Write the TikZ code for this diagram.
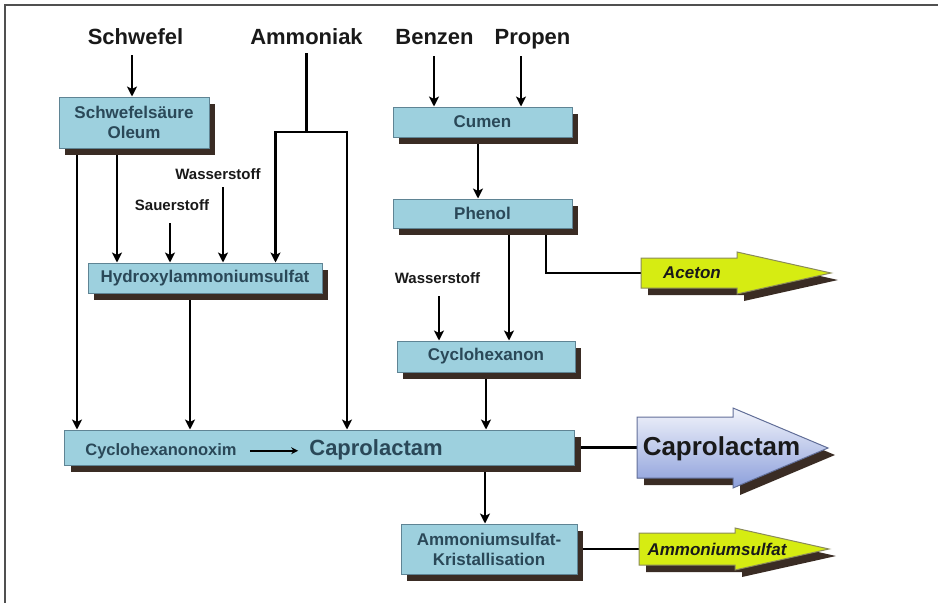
\documentclass[tikz,border=0pt]{standalone}
\usepackage{fontspec}
\setmainfont{Liberation Sans}
\usetikzlibrary{positioning,shadows,arrows.meta,backgrounds}
\definecolor{boxfill}{HTML}{9DD0DE}
\definecolor{boxline}{HTML}{5F8494}
\definecolor{boxtext}{HTML}{2A4858}
\definecolor{shadowc}{HTML}{3A2C24}
\definecolor{limefill}{HTML}{D6EC12}
\definecolor{limeline}{HTML}{8A8A5A}
\definecolor{captop}{HTML}{F2F4FB}
\definecolor{capbot}{HTML}{8C9FDB}
\definecolor{frame}{HTML}{505050}

\begin{document}
\begin{tikzpicture}[x=1pt,y=-1pt,>={Stealth[length=10pt,width=10pt,inset=2.5pt]}]
                        \tikzstyle{every node}=[inner sep=0,font=\bfseries]
                        \tikzstyle{raw}=[anchor=base,text=black!90,font=\fontsize{22}{26}\selectfont\bfseries]
                        \tikzstyle{gas}=[anchor=base,text=black!90,font=\fontsize{15}{18}\selectfont\bfseries]
                        \tikzstyle{box}=[rectangle,draw=boxline,line width=1,fill=boxfill,text=boxtext,align=center,
                            font=\fontsize{17}{20}\selectfont\bfseries,
                            drop shadow={shadow xshift=6pt,shadow yshift=-7pt,fill=shadowc,opacity=1}]
                        \tikzstyle{flow}=[line width=2.2,->]
                        \tikzstyle{pipe}=[line width=2.2]
                        \tikzstyle{outarrow}=[draw=limeline,line width=1,
                            drop shadow={shadow xshift=7pt,shadow yshift=-7pt,fill=shadowc,opacity=1}]
                        \tikzstyle{outlabel}=[anchor=base,text=black!90,font=\fontsize{17}{20}\selectfont\bfseries\itshape]
                        {
                            \useasboundingbox (0,0) rectangle (938,603);

                            \node[raw] (schwefel) at (135.5,44) {Schwefel};
                            \node[raw] (ammoniak) at (306.5,44) {Ammoniak};
                            \node[raw] (benzen) at (434.5,44) {Benzen};
                            \node[raw] (propen) at (532.5,44) {Propen};

                            \node[gas] (hwl) at (218,179) {Wasserstoff};
                            \node[gas] (sauerstoff) at (172,210) {Sauerstoff};
                            \node[gas] (hwr) at (437.5,283) {Wasserstoff};

                            \node[box,minimum width=150,minimum height=51] (saeure) at (134,122.5) {Schwefelsäure\\Oleum};
                            \node[box,minimum width=234,minimum height=30] (hydroxyl) at (205,278) {Hydroxylammoniumsulfat};
                            \node[box,minimum width=179,minimum height=30] (cumen) at (482.5,122) {Cumen};
                            \node[box,minimum width=179,minimum height=29,below of=cumen,node distance=91.5] (phenol) {Phenol};
                            \node[box,minimum width=178,minimum height=31] (cyclo) at (486,356.5) {Cyclohexanon};
                            \node[box,minimum width=510,minimum height=35] (capro) at (319.5,447.5) {};
                            \node[box,minimum width=176,minimum height=50] (ammon) at (489,549) {Ammoniumsulfat-\\Kristallisation};

                            \node[anchor=base,text=boxtext,font=\fontsize{16.5}{20}\selectfont\bfseries] (oxim) at (161,455) {Cyclohexanonoxim};
                            \node[anchor=base,text=boxtext,font=\fontsize{22}{26}\selectfont\bfseries] (lactam) at (376,455) {Caprolactam};
                            \draw[line width=2,->,>={Stealth[length=7pt,width=7pt]},shorten <=13,shorten >=11]
                                (oxim.east) -- (oxim.east -| lactam.west);

                            \filldraw[outarrow,fill=limefill] (641,258) -- (737,258) -- (737,252) -- (831,273)
                                -- (737,294) -- (737,288) -- (641,288) -- cycle;
                            \filldraw[outarrow,draw=capbot!70!black,top color=captop,bottom color=capbot]
                                (637,417) -- (733,417) -- (733,408) -- (828,448) -- (733,488) -- (733,478) -- (637,478) -- cycle;
                            \filldraw[outarrow,fill=limefill] (639,533) -- (735,533) -- (735,528) -- (829,549)
                                -- (735,570) -- (735,565) -- (639,565) -- cycle;
                            \coordinate (acetonin) at (641,273);
                            \coordinate (caprin) at (637,447.5);
                            \coordinate (ammin) at (639,549);

                            \node[outlabel] (aceton) at (692,278) {Aceton};
                            \node[anchor=base,text=black!90,font=\fontsize{26}{30}\selectfont\bfseries] (product) at (721.5,455) {Caprolactam};
                            \node[outlabel] (sulfat) at (717,555) {Ammoniumsulfat};

                            \begin{scope}[on background layer]
                                \draw[frame,line width=2] (4.5,603) -- (4.5,5) -- (938,5);

                                \draw[flow] ([xshift=-3.5pt,yshift=-11pt]schwefel.base) -- ([xshift=-3.5pt]schwefel.base |- saeure.north);
                                \draw[flow] ([xshift=-57pt]saeure.south) -- ([xshift=-57pt]saeure.south |- capro.north);
                                \draw[flow] ([xshift=-17pt]saeure.south) -- ([xshift=-17pt]saeure.south |- hydroxyl.north);
                                \draw[flow] ([xshift=-2pt,yshift=-13pt]sauerstoff.base) -- ([xshift=-2pt]sauerstoff.base |- hydroxyl.north);
                                \draw[flow] ([xshift=5pt,yshift=-8pt]hwl.base) -- ([xshift=5pt]hwl.base |- hydroxyl.north);
                                \draw[pipe] ([yshift=-9pt]ammoniak.base) -- ([yshift=-88pt]ammoniak.base) coordinate (nh3);
                                \draw[flow] (nh3) -| ([xshift=-31pt]nh3 |- hydroxyl.north);
                                \draw[flow] (nh3) -| ([xshift=40.5pt]nh3 |- capro.north);
                                \draw[flow] ([xshift=-15pt]hydroxyl.south) -- ([xshift=-15pt]hydroxyl.south |- capro.north);

                                \draw[flow] ([xshift=-0.5pt,yshift=-12pt]benzen.base) -- ([xshift=-0.5pt]benzen.base |- cumen.north);
                                \draw[flow] ([xshift=-11.5pt,yshift=-12pt]propen.base) -- ([xshift=-11.5pt]propen.base |- cumen.north);
                                \draw[flow] ([xshift=-4.5pt]cumen.south) -- ([xshift=-4.5pt]cumen.south |- phenol.north);
                                \draw[flow] ([xshift=26.5pt]phenol.south) -- ([xshift=26.5pt]phenol.south |- cyclo.north);
                                \draw[pipe] ([xshift=63.5pt]phenol.south) |- (acetonin);
                                \draw[flow] ([xshift=1.5pt,yshift=-13pt]hwr.base) -- ([xshift=1.5pt]hwr.base |- cyclo.north);
                                \draw[flow] (cyclo.south) -- (cyclo.south |- capro.north);
                                \draw[flow] ([xshift=-4pt]ammon.north |- capro.south) -- ([xshift=-4pt]ammon.north);
                                \draw[pipe] (capro.east) -- (caprin);
                                \draw[pipe] (ammon.east) -- (ammin);
                            \end{scope}
                        }
                    \end{tikzpicture}
\end{document}
